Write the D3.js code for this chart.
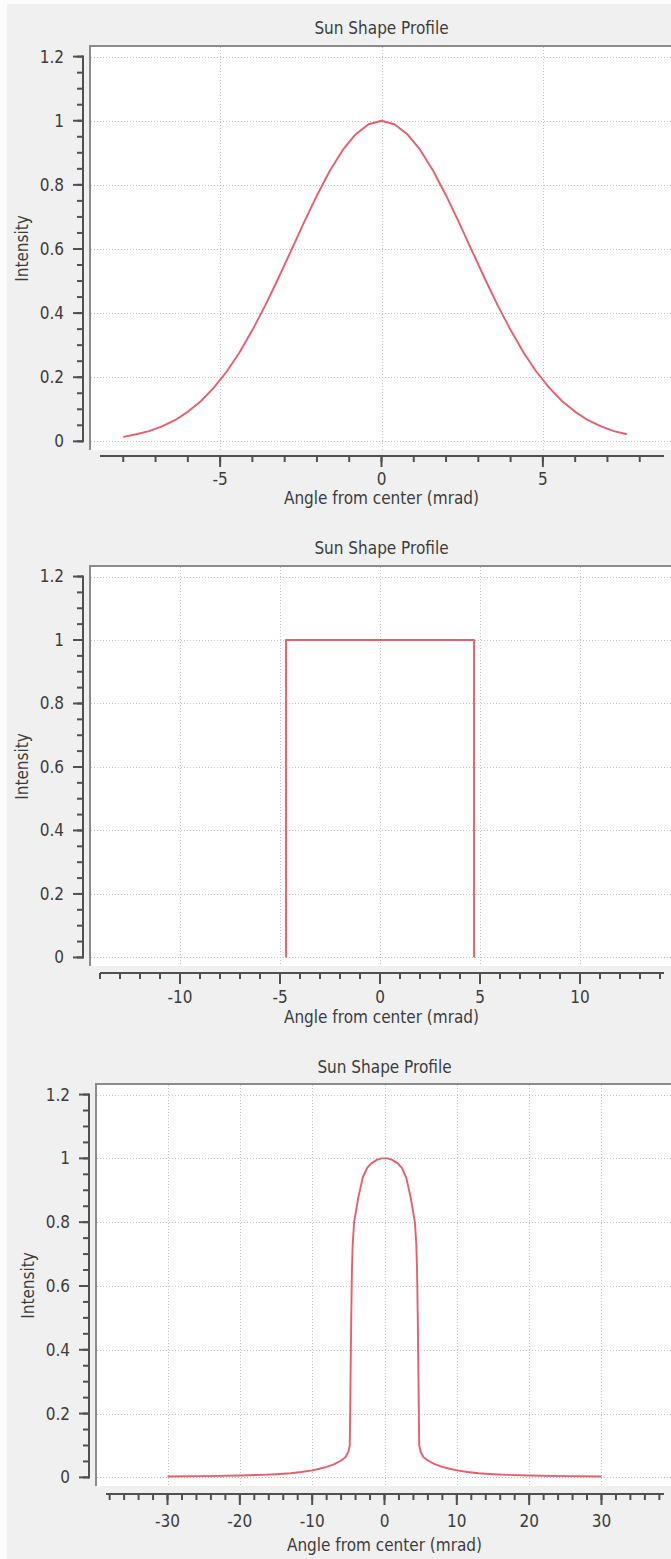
<!DOCTYPE html>
<html>
<head>
<meta charset="utf-8">
<script src="https://cdn.jsdelivr.net/npm/d3@7"></script>
<style>
  html, body { margin: 0; padding: 0; background: #f0f0f0; }
  svg { display: block; }
  text { font-family: "DejaVu Sans Condensed", "DejaVu Sans", sans-serif; fill: #3c3c3c; }
</style>
</head>
<body>
<svg id="chart" width="671" height="1559"></svg>
<script>
// ---- Gaussian sun shape ----
const gaussAngle = [-8.0, -7.6, -7.2, -6.8, -6.4, -6.0, -5.6, -5.2, -4.8, -4.4, -4.0, -3.6, -3.2, -2.8, -2.4, -2.0, -1.6, -1.2, -0.8, -0.4,
                    0.0, 0.4, 0.8, 1.2, 1.6, 2.0, 2.4, 2.8, 3.2, 3.6, 4.0, 4.4, 4.8, 5.2, 5.6, 6.0, 6.4, 6.8, 7.2, 7.6];
const gaussIntensity = [0.014, 0.022, 0.032, 0.047, 0.066, 0.092, 0.125, 0.167, 0.217, 0.277, 0.347, 0.424, 0.508, 0.595, 0.683, 0.767, 0.844, 0.909, 0.958, 0.989,
                        1.000, 0.989, 0.958, 0.909, 0.844, 0.767, 0.683, 0.595, 0.508, 0.424, 0.347, 0.277, 0.217, 0.167, 0.125, 0.092, 0.066, 0.047, 0.032, 0.022];

// ---- Pillbox sun shape ----
const pillboxAngle = [-4.7, -4.7, 4.7, 4.7];
const pillboxIntensity = [0, 1, 1, 0];

// ---- Limb-darkened disk with circumsolar ring ----
const csrAngle = [-30, -25, -20, -17, -15, -13, -11.5, -10, -9, -8, -7, -6, -5.4, -5.0, -4.8, -4.7, -4.6, -4.5, -4.4, -4.2, -3.6, -3.0, -2.4, -1.8, -1.0, -0.4,
                  0, 0.4, 1.0, 1.8, 2.4, 3.0, 3.6, 4.2, 4.4, 4.5, 4.6, 4.7, 4.8, 5.0, 5.4, 6, 7, 8, 9, 10, 11.5, 13, 15, 17, 20, 25, 30];
const csrIntensity = [0.003, 0.004, 0.006, 0.008, 0.010, 0.013, 0.017, 0.022, 0.027, 0.033, 0.041, 0.053, 0.063, 0.080, 0.10, 0.30, 0.50, 0.65, 0.73, 0.80, 0.88, 0.94, 0.97, 0.985, 0.996, 1.0,
                      1.0, 1.0, 0.996, 0.985, 0.97, 0.94, 0.88, 0.80, 0.73, 0.65, 0.50, 0.30, 0.10, 0.080, 0.063, 0.053, 0.041, 0.033, 0.027, 0.022, 0.017, 0.013, 0.010, 0.008, 0.006, 0.004, 0.003];

// ---- Axis ticks and labels ----
const yTickValues = [0, 0.2, 0.4, 0.6, 0.8, 1, 1.2];
const yTickLabels = ["0", "0.2", "0.4", "0.6", "0.8", "1", "1.2"];
const gaussTicks = [-5, 0, 5];
const gaussTickLabels = ["-5", "0", "5"];
const pillboxTicks = [-10, -5, 0, 5, 10];
const pillboxTickLabels = ["-10", "-5", "0", "5", "10"];
const csrTicks = [-30, -20, -10, 0, 10, 20, 30];
const csrTickLabels = ["-30", "-20", "-10", "0", "10", "20", "30"];

const plotTitle = "Sun Shape Profile";
const xAxisTitle = "Angle from center (mrad)";
const yAxisTitle = "Intensity";

const svg = d3.select("#chart");
const curveColor = "#e5606c";
const axisColor = "#505050";
const gridColor = "#c4c4c4";
const fontSize = "17px";

// light window edge on the left and top
svg.append("rect").attr("x", 0).attr("y", 0).attr("width", 7).attr("height", 1559).attr("fill", "#fbfbfb");
svg.append("rect").attr("x", 0).attr("y", 0).attr("width", 671).attr("height", 4).attr("fill", "#fbfbfb");

function drawPanel(cfg) {
  const g = svg.append("g");
  const right = 672;

  const x = d3.scaleLinear().domain(cfg.xDomain).range([cfg.canvasLeft, right]);
  const y = d3.scaleLinear().domain([-0.027, 1.23]).range([cfg.canvasBottom, cfg.canvasTop]);

  // title
  g.append("text")
    .attr("x", (cfg.canvasLeft + right) / 2)
    .attr("y", cfg.titleY)
    .attr("dy", "0.35em")
    .attr("text-anchor", "middle")
    .style("font-size", fontSize)
    .text(plotTitle);

  // canvas
  g.append("rect")
    .attr("x", cfg.canvasLeft).attr("y", cfg.canvasTop)
    .attr("width", right - cfg.canvasLeft).attr("height", cfg.canvasBottom - cfg.canvasTop)
    .attr("fill", "#ffffff");

  // grid
  const grid = g.append("g").attr("stroke", gridColor).attr("stroke-width", 1).attr("stroke-dasharray", "1,2");
  grid.selectAll("line.h").data(yTickValues).join("line")
    .attr("x1", cfg.canvasLeft).attr("x2", right)
    .attr("y1", d => Math.round(y(d)) + 0.5).attr("y2", d => Math.round(y(d)) + 0.5);
  grid.selectAll("line.v").data(cfg.ticks).join("line")
    .attr("x1", d => Math.round(x(d)) + 0.5).attr("x2", d => Math.round(x(d)) + 0.5)
    .attr("y1", cfg.canvasTop).attr("y2", cfg.canvasBottom);

  // sunken frame (top and left)
  g.append("path")
    .attr("d", `M${cfg.canvasLeft - 1},${cfg.canvasBottom}V${cfg.canvasTop - 1}H${right}`)
    .attr("fill", "none").attr("stroke", "#8c8c8c").attr("stroke-width", 2);

  // profile curve
  const pts = cfg.xs.map((v, i) => [v, cfg.ys[i]]);
  g.append("path")
    .datum(pts)
    .attr("d", d3.line().x(d => x(d[0])).y(d => y(d[1])))
    .attr("fill", "none")
    .attr("stroke", curveColor)
    .attr("stroke-width", 1.9)
    .attr("stroke-linejoin", "round");

  // y axis
  const yAxisX = cfg.canvasLeft - 8;
  const ya = g.append("g").attr("stroke", axisColor);
  ya.append("line")
    .attr("x1", yAxisX).attr("x2", yAxisX)
    .attr("y1", y(1.2) - 1).attr("y2", y(0) + 1)
    .attr("stroke-width", 2);
  const yMinor = d3.range(0, 1.2001, 0.05);
  ya.selectAll("line.minor").data(yMinor).join("line")
    .attr("x1", yAxisX - 6).attr("x2", yAxisX)
    .attr("y1", d => y(d)).attr("y2", d => y(d))
    .attr("stroke-width", 2);
  ya.selectAll("line.major").data(yTickValues).join("line")
    .attr("x1", yAxisX - 10).attr("x2", yAxisX)
    .attr("y1", d => y(d)).attr("y2", d => y(d))
    .attr("stroke-width", 2);
  g.selectAll("text.ylab").data(yTickValues).join("text")
    .attr("x", yAxisX - 19)
    .attr("y", d => y(d))
    .attr("dy", "0.35em")
    .attr("text-anchor", "end")
    .style("font-size", fontSize)
    .text((d, i) => yTickLabels[i]);
  g.append("text")
    .attr("transform", `translate(${cfg.canvasLeft - 69},${(cfg.canvasTop + cfg.canvasBottom) / 2}) rotate(-90)`)
    .attr("dy", "0.35em")
    .attr("text-anchor", "middle")
    .style("font-size", fontSize)
    .text(yAxisTitle);

  // x axis
  const xa = g.append("g").attr("stroke", axisColor);
  xa.append("line")
    .attr("x1", cfg.canvasLeft + 9).attr("x2", 664)
    .attr("y1", cfg.axisY).attr("y2", cfg.axisY)
    .attr("stroke-width", 2);
  xa.selectAll("line.minor").data(cfg.minorTicks).join("line")
    .attr("x1", d => x(d)).attr("x2", d => x(d))
    .attr("y1", cfg.axisY).attr("y2", cfg.axisY + 6)
    .attr("stroke-width", 2);
  xa.selectAll("line.major").data(cfg.ticks).join("line")
    .attr("x1", d => x(d)).attr("x2", d => x(d))
    .attr("y1", cfg.axisY).attr("y2", cfg.axisY + 11)
    .attr("stroke-width", 2);
  g.selectAll("text.xlab").data(cfg.ticks).join("text")
    .attr("x", d => x(d))
    .attr("y", cfg.axisY + cfg.labelDy)
    .attr("dy", "0.35em")
    .attr("text-anchor", "middle")
    .style("font-size", fontSize)
    .text((d, i) => cfg.tickLabels[i]);
  g.append("text")
    .attr("x", (cfg.canvasLeft + right) / 2)
    .attr("y", cfg.axisY + cfg.titleDy)
    .attr("dy", "0.35em")
    .attr("text-anchor", "middle")
    .style("font-size", fontSize)
    .text(xAxisTitle);
}

drawPanel({
  xs: gaussAngle, ys: gaussIntensity,
  xDomain: [-9, 9], ticks: gaussTicks, tickLabels: gaussTickLabels,
  minorTicks: d3.range(-8, 8.5, 1),
  canvasLeft: 91, titleY: 28, canvasTop: 47, canvasBottom: 450, axisY: 456,
  labelDy: 23, titleDy: 42
});

drawPanel({
  xs: pillboxAngle, ys: pillboxIntensity,
  xDomain: [-14.45, 14.6], ticks: pillboxTicks, tickLabels: pillboxTickLabels,
  minorTicks: d3.range(-14, 14.5, 1),
  canvasLeft: 91, titleY: 548, canvasTop: 567, canvasBottom: 966, axisY: 973,
  labelDy: 24, titleDy: 44
});

drawPanel({
  xs: csrAngle, ys: csrIntensity,
  xDomain: [-39.75, 39.75], ticks: csrTicks, tickLabels: csrTickLabels,
  minorTicks: d3.range(-38, 38.5, 2),
  canvasLeft: 97, titleY: 1067, canvasTop: 1085, canvasBottom: 1486, axisY: 1494,
  labelDy: 27, titleDy: 51
});
</script>
</body>
</html>
